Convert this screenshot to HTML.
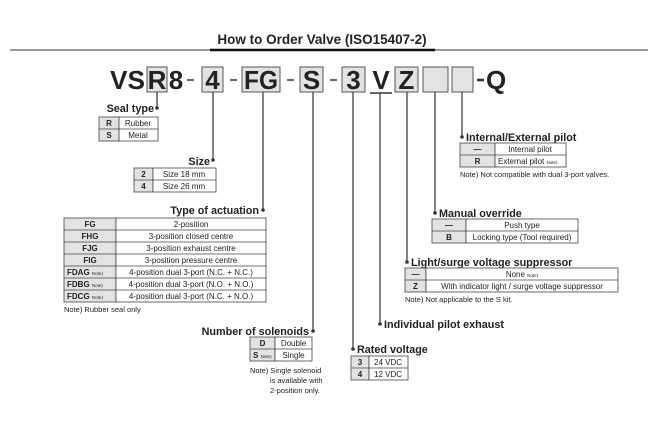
<!DOCTYPE html>
<html><head><meta charset="utf-8"><style>
body{margin:0;background:#fff}
svg{display:block}
text{font-family:"Liberation Sans",Arial,sans-serif;fill:#222}
.b{font-weight:bold}
.h{font-weight:bold;font-size:10.8px}
.t{font-size:8px}
.tb{font-size:8px;font-weight:bold}
.n{font-size:4.5px}
.c{font-weight:bold;font-size:26px}
</style></head><body>
<svg width="656" height="432" viewBox="0 0 656 432" xmlns="http://www.w3.org/2000/svg">
<rect width="656" height="432" fill="#fff"/>
<line x1="10" y1="50" x2="648" y2="50" stroke="#999" stroke-width="2"/>
<line x1="210" y1="50" x2="435" y2="50" stroke="#111" stroke-width="2.5"/>
<text x="322" y="44" text-anchor="middle" class="b" font-size="13.5">How to Order Valve (ISO15407-2)</text>
<g fill="#e3e3e3" stroke="#555" stroke-width="1">
<rect x="147" y="67" width="20" height="25"/>
<rect x="202" y="67" width="21" height="25"/>
<rect x="242" y="67" width="38" height="25"/>
<rect x="300" y="67" width="23" height="25"/>
<rect x="342" y="67" width="23" height="25"/>
<rect x="395" y="67" width="23" height="25"/>
<rect x="423" y="67" width="25" height="25"/>
<rect x="452" y="67" width="21" height="25"/>
</g>
<text x="110" y="89" class="c" textLength="35" lengthAdjust="spacingAndGlyphs">VS</text>
<text x="157" y="89" class="c" text-anchor="middle">R</text>
<text x="176" y="89" class="c" text-anchor="middle">8</text>
<text x="212.5" y="89" class="c" text-anchor="middle">4</text>
<text x="244" y="89" class="c" textLength="34" lengthAdjust="spacingAndGlyphs">FG</text>
<text x="311.5" y="89" class="c" text-anchor="middle">S</text>
<text x="353.5" y="89" class="c" text-anchor="middle">3</text>
<text x="381" y="89" class="c" text-anchor="middle">V</text>
<text x="406.5" y="89" class="c" text-anchor="middle">Z</text>
<text x="486" y="89" class="c">Q</text>
<g stroke="#333" stroke-width="1.5">
<line x1="187" y1="80" x2="194" y2="80"/>
<line x1="230" y1="80" x2="237" y2="80"/>
<line x1="287" y1="80" x2="294" y2="80"/>
<line x1="330" y1="80" x2="337" y2="80"/>
<line x1="477" y1="80" x2="484" y2="80" stroke-width="2.5"/>
<line x1="370" y1="93" x2="392" y2="93"/>
</g>
<g stroke="#333" stroke-width="1.2">
<line x1="157" y1="92" x2="157" y2="108"/>
<line x1="213" y1="92" x2="213" y2="160"/>
<line x1="263" y1="92" x2="263" y2="210"/>
<line x1="313" y1="92" x2="313" y2="331"/>
<line x1="353" y1="92" x2="353" y2="349"/>
<line x1="380" y1="93" x2="380" y2="324"/>
<line x1="407" y1="92" x2="407" y2="262"/>
<line x1="435" y1="92" x2="435" y2="213"/>
<line x1="462" y1="92" x2="462" y2="137"/>
</g>
<g fill="#333">
<circle cx="157" cy="108" r="1.8"/><circle cx="213" cy="160" r="1.8"/><circle cx="263" cy="210" r="1.8"/>
<circle cx="313" cy="331" r="1.8"/><circle cx="353" cy="349" r="1.8"/><circle cx="380" cy="324" r="1.8"/>
<circle cx="407" cy="262" r="1.8"/><circle cx="435" cy="213" r="1.8"/><circle cx="462" cy="137" r="1.8"/>
</g>
<text x="154" y="112" class="h" text-anchor="end">Seal type</text>
<g stroke="#444" stroke-width="0.8"><rect x="99" y="117" width="20" height="24" fill="#e3e3e3"/><rect x="119" y="117" width="39" height="24" fill="#fff"/><line x1="99" y1="129" x2="158" y2="129"/></g>
<text x="109" y="126" class="tb" text-anchor="middle">R</text><text x="138" y="126" class="t" text-anchor="middle">Rubber</text>
<text x="109" y="138" class="tb" text-anchor="middle">S</text><text x="138" y="138" class="t" text-anchor="middle">Metal</text>
<text x="210" y="165" class="h" text-anchor="end">Size</text>
<g stroke="#444" stroke-width="0.8"><rect x="134" y="168" width="19" height="24" fill="#e3e3e3"/><rect x="153" y="168" width="63" height="24" fill="#fff"/><line x1="134" y1="180" x2="216" y2="180"/></g>
<text x="143.5" y="177" class="tb" text-anchor="middle">2</text><text x="184" y="177" class="t" text-anchor="middle">Size 18 mm</text>
<text x="143.5" y="189" class="tb" text-anchor="middle">4</text><text x="184" y="189" class="t" text-anchor="middle">Size 26 mm</text>
<text x="259" y="214" class="h" text-anchor="end">Type of actuation</text>
<g stroke="#444" stroke-width="0.8"><rect x="64" y="218" width="52" height="84" fill="#e3e3e3"/><rect x="116" y="218" width="150" height="84" fill="#fff"/>
<line x1="64" y1="230" x2="266" y2="230"/><line x1="64" y1="242" x2="266" y2="242"/><line x1="64" y1="254" x2="266" y2="254"/><line x1="64" y1="266" x2="266" y2="266"/><line x1="64" y1="278" x2="266" y2="278"/><line x1="64" y1="290" x2="266" y2="290"/></g>
<text x="90" y="227" class="tb" text-anchor="middle">FG</text><text x="191" y="227" class="t" text-anchor="middle">2-position</text>
<text x="90" y="239" class="tb" text-anchor="middle">FHG</text><text x="191" y="239" class="t" text-anchor="middle">3-position closed centre</text>
<text x="90" y="251" class="tb" text-anchor="middle">FJG</text><text x="191" y="251" class="t" text-anchor="middle">3-position exhaust centre</text>
<text x="90" y="263" class="tb" text-anchor="middle">FIG</text><text x="191" y="263" class="t" text-anchor="middle">3-position pressure centre</text>
<text x="67" y="275" class="tb">FDAG <tspan class="n" font-weight="normal">Note)</tspan></text><text x="191" y="275" class="t" text-anchor="middle">4-position dual 3-port (N.C. + N.C.)</text>
<text x="67" y="287" class="tb">FDBG <tspan class="n" font-weight="normal">Note)</tspan></text><text x="191" y="287" class="t" text-anchor="middle">4-position dual 3-port (N.O. + N.O.)</text>
<text x="67" y="299" class="tb">FDCG <tspan class="n" font-weight="normal">Note)</tspan></text><text x="191" y="299" class="t" text-anchor="middle">4-position dual 3-port (N.C. + N.O.)</text>
<text x="64" y="312" font-size="7.5">Note) Rubber seal only</text>
<text x="309" y="335" class="h" text-anchor="end">Number of solenoids</text>
<g stroke="#444" stroke-width="0.8"><rect x="250" y="337" width="25" height="24" fill="#e3e3e3"/><rect x="275" y="337" width="37" height="24" fill="#fff"/><line x1="250" y1="349" x2="312" y2="349"/></g>
<text x="262.5" y="346" class="tb" text-anchor="middle">D</text><text x="293.5" y="346" class="t" text-anchor="middle">Double</text>
<text x="253" y="358" class="tb">S <tspan class="n" font-weight="normal">Note)</tspan></text><text x="293.5" y="358" class="t" text-anchor="middle">Single</text>
<text x="250" y="373" font-size="7.5">Note) Single solenoid</text>
<text x="270" y="383" font-size="7.5">is available with</text>
<text x="270" y="393" font-size="7.5">2-position only.</text>
<text x="357" y="353" class="h">Rated voltage</text>
<g stroke="#444" stroke-width="0.8"><rect x="351" y="356" width="18" height="24" fill="#e3e3e3"/><rect x="369" y="356" width="39" height="24" fill="#fff"/><line x1="351" y1="368" x2="408" y2="368"/></g>
<text x="360" y="365" class="tb" text-anchor="middle">3</text><text x="374" y="365" class="t">24 VDC</text>
<text x="360" y="377" class="tb" text-anchor="middle">4</text><text x="374" y="377" class="t">12 VDC</text>
<text x="384" y="328" class="h">Individual pilot exhaust</text>
<text x="411" y="266" class="h">Light/surge voltage suppressor</text>
<g stroke="#444" stroke-width="0.8"><rect x="405" y="268" width="21" height="24" fill="#e3e3e3"/><rect x="426" y="268" width="192" height="24" fill="#fff"/><line x1="405" y1="280" x2="618" y2="280"/></g>
<text x="415.5" y="277" class="tb" text-anchor="middle">—</text><text x="522" y="277" class="t" text-anchor="middle">None <tspan class="n">Note)</tspan></text>
<text x="415.5" y="289" class="tb" text-anchor="middle">Z</text><text x="522" y="289" class="t" text-anchor="middle">With indicator light / surge voltage suppressor</text>
<text x="405" y="302" font-size="7.5">Note) Not applicable to the S kit.</text>
<text x="439" y="217" class="h">Manual override</text>
<g stroke="#444" stroke-width="0.8"><rect x="432" y="219" width="34" height="24" fill="#e3e3e3"/><rect x="466" y="219" width="112" height="24" fill="#fff"/><line x1="432" y1="231" x2="578" y2="231"/></g>
<text x="449" y="228" class="tb" text-anchor="middle">—</text><text x="522" y="228" class="t" text-anchor="middle">Push type</text>
<text x="449" y="240" class="tb" text-anchor="middle">B</text><text x="522" y="240" class="t" text-anchor="middle">Locking type (Tool required)</text>
<text x="466" y="141" class="h">Internal/External pilot</text>
<g stroke="#444" stroke-width="0.8"><rect x="460" y="143" width="35" height="24" fill="#e3e3e3"/><rect x="495" y="143" width="71" height="24" fill="#fff"/><line x1="460" y1="155" x2="566" y2="155"/></g>
<text x="477.5" y="152" class="tb" text-anchor="middle">—</text><text x="530" y="152" class="t" text-anchor="middle">Internal pilot</text>
<text x="477.5" y="164" class="tb" text-anchor="middle">R</text><text x="498" y="164" class="t">External pilot <tspan class="n">Note)</tspan></text>
<text x="460" y="177" font-size="7.5">Note) Not compatible with dual 3-port valves.</text>
</svg>
</body></html>
